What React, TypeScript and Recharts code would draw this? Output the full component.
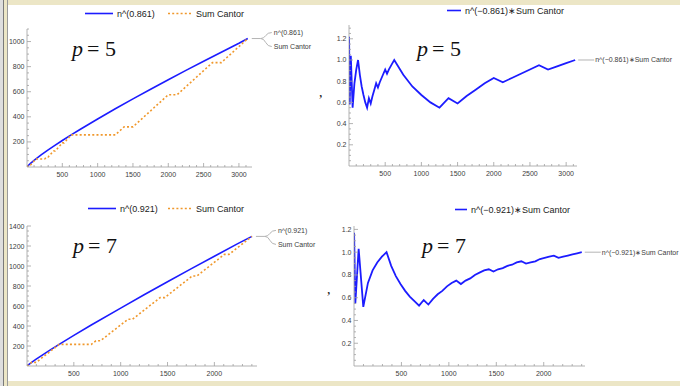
import React from 'react';
import { LineChart, Line, XAxis, YAxis, ReferenceDot } from 'recharts';

// p = 5 : n^(0.861) and the Cantor count
const p5Power: [number, number][] = [
  [0, 0], [10, 7], [25, 16], [50, 29], [100, 53], [200, 96], [300, 136], [400, 174], [500, 211],
  [625, 256], [750, 299], [1000, 383], [1250, 464], [1500, 543], [1750, 620], [2000, 696],
  [2250, 770], [2500, 843], [2750, 915], [3000, 986], [3125, 1024],
];
const p5Cantor: [number, number][] = [
  [0, 0], [25, 16], [50, 16], [75, 32], [100, 48], [125, 64], [250, 64], [275, 80], [300, 80],
  [325, 96], [350, 112], [375, 128], [400, 128], [425, 144], [450, 160], [475, 176], [500, 192],
  [525, 192], [550, 208], [575, 224], [600, 240], [625, 256], [1250, 256], [1375, 320], [1500, 320],
  [1625, 384], [1750, 448], [1875, 512], [2000, 576], [2125, 576], [2250, 640], [2375, 704],
  [2500, 768], [2625, 832], [2750, 832], [2875, 896], [3000, 960], [3125, 1024],
];
const p5Ratio: [number, number][] = [
  [1, 1.22], [10, 0.58], [25, 1.04], [50, 0.55], [75, 0.78], [100, 0.91], [125, 1.0], [150, 0.86],
  [175, 0.75], [200, 0.67], [225, 0.6], [250, 0.55], [275, 0.64], [300, 0.59], [325, 0.66],
  [350, 0.72], [375, 0.78], [400, 0.74], [425, 0.79], [450, 0.83], [475, 0.87], [500, 0.91],
  [525, 0.87], [550, 0.91], [575, 0.94], [600, 0.97], [625, 1.0], [750, 0.86], [875, 0.75],
  [1000, 0.67], [1125, 0.6], [1250, 0.55], [1375, 0.64], [1500, 0.59], [1625, 0.66], [1750, 0.72],
  [1875, 0.78], [2000, 0.83], [2125, 0.79], [2250, 0.83], [2375, 0.87], [2500, 0.91], [2625, 0.95],
  [2750, 0.91], [2875, 0.94], [3000, 0.97], [3125, 1.0],
];

// p = 7 : n^(0.921) and the Cantor count
const p7Power: [number, number][] = [
  [0, 0], [10, 8], [25, 19], [49, 36], [98, 68], [147, 99], [196, 129], [245, 159], [343, 216],
  [500, 306], [686, 410], [1000, 579], [1250, 713], [1500, 843], [1750, 971], [2000, 1097],
  [2250, 1224], [2401, 1296],
];
const p7Cantor: [number, number][] = [
  [0, 0], [49, 36], [98, 36], [147, 72], [196, 108], [245, 144], [294, 180], [343, 216], [686, 216],
  [735, 252], [784, 252], [833, 288], [882, 324], [931, 360], [980, 396], [1029, 432], [1078, 468],
  [1127, 468], [1176, 504], [1225, 540], [1274, 576], [1323, 612], [1372, 648], [1421, 684],
  [1470, 684], [1519, 720], [1568, 756], [1617, 792], [1666, 828], [1715, 864], [1764, 900],
  [1813, 900], [1862, 936], [1911, 972], [1960, 1008], [2009, 1044], [2058, 1080], [2107, 1116],
  [2156, 1116], [2205, 1152], [2254, 1188], [2303, 1224], [2352, 1260], [2401, 1296],
];
const p7Ratio: [number, number][] = [
  [1, 1.17], [14, 0.55], [49, 1.03], [98, 0.52], [147, 0.73], [196, 0.84], [245, 0.91], [294, 0.96],
  [343, 1.0], [392, 0.88], [441, 0.79], [490, 0.72], [539, 0.66], [588, 0.61], [637, 0.57],
  [686, 0.53], [735, 0.58], [784, 0.54], [833, 0.59], [882, 0.63], [931, 0.66], [980, 0.7],
  [1029, 0.73], [1078, 0.75], [1127, 0.72], [1176, 0.75], [1225, 0.77], [1274, 0.8], [1323, 0.82],
  [1372, 0.84], [1421, 0.85], [1470, 0.83], [1519, 0.85], [1568, 0.86], [1617, 0.88], [1666, 0.89],
  [1715, 0.91], [1764, 0.92], [1813, 0.9], [1862, 0.91], [1911, 0.92], [1960, 0.94], [2009, 0.95],
  [2058, 0.96], [2107, 0.97], [2156, 0.95], [2205, 0.96], [2254, 0.97], [2303, 0.98], [2352, 0.99],
  [2401, 1.0],
];

// tick labels
const xMajor5 = [500, 1000, 1500, 2000, 2500, 3000];
const xMajor7 = [500, 1000, 1500, 2000];
const yMajorSum5 = [200, 400, 600, 800, 1000];
const yMajorSum7 = [200, 400, 600, 800, 1000, 1200, 1400];
const yMajorRatio = [0.2, 0.4, 0.6, 0.8, 1.0, 1.2];

const BLUE = '#1c1cff';
const ORANGE = '#f0982c';
const AXIS = '#a0a0a0';
const LABEL = '#3c3c3c';
const LEADER = '#b4b4b4';
const SANS = '"Liberation Sans", Arial, sans-serif';
const SERIF = '"Liberation Serif", "Times New Roman", serif';

const toPts = (arr: [number, number][]) => arr.map(([n, v]) => ({ n, v }));

// minor + major tick positions
const tickSteps = (step: number, max: number) => {
  const out: number[] = [];
  for (let i = 1; i * step <= max + 1e-9; i++) out.push(Math.round(i * step * 1000) / 1000);
  return out;
};

const XTick = (props: any) => {
  const { x, y, payload, major } = props;
  const isMajor = major.some((m: number) => Math.abs(m - payload.value) < 1e-6);
  return (
    <g>
      <line x1={x} x2={x} y1={y} y2={y - (isMajor ? 4 : 2)} stroke={AXIS} strokeWidth={0.8} />
      {isMajor && (
        <text x={x} y={y + 10} textAnchor="middle" fontSize={7} fontFamily={SANS} fill={LABEL}>
          {payload.value}
        </text>
      )}
    </g>
  );
};

const YTick = (props: any) => {
  const { x, y, payload, major, decimals } = props;
  const isMajor = major.some((m: number) => Math.abs(m - payload.value) < 1e-6);
  return (
    <g>
      <line x1={x} x2={x + (isMajor ? 4 : 2)} y1={y} y2={y} stroke={AXIS} strokeWidth={0.8} />
      {isMajor && (
        <text x={x - 2.5} y={y + 2.5} textAnchor="end" fontSize={7} fontFamily={SANS} fill={LABEL}>
          {decimals ? Number(payload.value).toFixed(decimals) : payload.value}
        </text>
      )}
    </g>
  );
};

const PairCallout = (props: any) => {
  const { cx, cy, top, bottom } = props;
  return (
    <g>
      <path
        d={`M${cx + 4},${cy} H${cx + 13} Q${cx + 16},${cy} ${cx + 18},${cy - 3} Q${cx + 20},${cy - 6} ${cx + 24},${cy - 6} M${cx + 13},${cy} Q${cx + 16},${cy} ${cx + 18},${cy + 4} Q${cx + 20},${cy + 8} ${cx + 24},${cy + 8}`}
        fill="none"
        stroke={LEADER}
        strokeWidth={1}
      />
      <text x={cx + 26} y={cy - 3.5} fontSize={7} fontFamily={SANS} fill={LABEL}>{top}</text>
      <text x={cx + 26} y={cy + 10.5} fontSize={7} fontFamily={SANS} fill={LABEL}>{bottom}</text>
    </g>
  );
};

const SingleCallout = (props: any) => {
  const { cx, cy, text } = props;
  return (
    <g>
      <line x1={cx + 3} x2={cx + 19} y1={cy} y2={cy} stroke={LEADER} strokeWidth={1} />
      <text x={cx + 20} y={cy + 2.5} fontSize={7} fontFamily={SANS} fill={LABEL}>{text}</text>
    </g>
  );
};

type Series = { data: [number, number][]; color: string; dashed?: boolean; width: number };

type PanelProps = {
  left: number; top: number; width: number; height: number;
  yAxisWidth: number; xAxisHeight: number; marginTop: number; marginRight: number;
  xMax: number; yMax: number; xMajor: number[]; yMajor: number[]; yMinorStep: number; decimals: number;
  series: Series[]; callout: React.ReactElement; calloutAt: [number, number];
};

const Panel = (p: PanelProps) => (
  <div style={{ position: 'absolute', left: p.left, top: p.top }}>
    <LineChart
      width={p.width}
      height={p.height}
      margin={{ top: p.marginTop, right: p.marginRight, bottom: 0, left: 0 }}
      style={{ overflow: 'visible' }}
    >
      <XAxis
        dataKey="n"
        type="number"
        domain={[0, p.xMax]}
        ticks={tickSteps(100, p.xMax)}
        interval={0}
        height={p.xAxisHeight}
        tickSize={0}
        tickMargin={0}
        tickLine={false}
        axisLine={{ stroke: AXIS, strokeWidth: 0.8 }}
        tick={<XTick major={p.xMajor} />}
        allowDataOverflow
      />
      <YAxis
        type="number"
        domain={[0, p.yMax]}
        ticks={tickSteps(p.yMinorStep, p.yMax)}
        interval={0}
        width={p.yAxisWidth}
        tickSize={0}
        tickMargin={0}
        tickLine={false}
        axisLine={{ stroke: AXIS, strokeWidth: 0.8 }}
        tick={<YTick major={p.yMajor} decimals={p.decimals} />}
        allowDataOverflow
      />
      {p.series.map((s, i) => (
        <Line
          key={i}
          data={toPts(s.data)}
          dataKey="v"
          type="linear"
          stroke={s.color}
          strokeWidth={s.width}
          strokeDasharray={s.dashed ? '2 2.2' : undefined}
          dot={false}
          activeDot={false}
          isAnimationActive={false}
        />
      ))}
      <ReferenceDot
        x={p.calloutAt[0]}
        y={p.calloutAt[1]}
        r={0}
        ifOverflow="visible"
        shape={(sp: any) => React.cloneElement(p.callout, { cx: sp.cx, cy: sp.cy })}
      />
    </LineChart>
  </div>
);

const LegendLine = ({ x1, x2, y, color, dashed }: any) => (
  <line x1={x1} x2={x2} y1={y} y2={y} stroke={color} strokeWidth={1.6} strokeDasharray={dashed ? '2 2.2' : undefined} />
);

const PLabel = ({ x, y, digit }: { x: number; y: number; digit: string }) => (
  <text y={y} fontSize={22} fontFamily={SERIF} fill="#111">
    <tspan x={x} fontStyle="italic">p</tspan>
    <tspan x={x + 15}>=</tspan>
    <tspan x={x + 33}>{digit}</tspan>
  </text>
);

export default function App() {
  const last = (a: [number, number][]) => a[a.length - 1];
  return (
    <div style={{ position: 'absolute', left: 0, top: 0, width: 680, height: 386, background: '#ffffff', overflow: 'hidden' }}>
      {/* notebook frame */}
      <div style={{ position: 'absolute', left: 0, top: 0, width: 680, height: 5, background: '#ece6c6' }} />
      <div style={{ position: 'absolute', left: 0, top: 381, width: 680, height: 5, background: '#ece6c6' }} />
      <div style={{ position: 'absolute', left: 0, top: 0, width: 8, height: 386, background: '#ece6c6' }} />
      <div style={{ position: 'absolute', left: 0, top: 0, width: 3, height: 386, background: '#dedede' }} />
      <div style={{ position: 'absolute', left: 3, top: 0, width: 1, height: 386, background: '#7a7a7a' }} />
      <div style={{ position: 'absolute', left: 7, top: 0, width: 1, height: 386, background: '#9a9a9a' }} />

      <Panel
        left={0} top={0} width={330} height={190}
        yAxisWidth={27} xAxisHeight={23} marginTop={29} marginRight={78}
        xMax={3185} yMax={1100} xMajor={xMajor5} yMajor={yMajorSum5} yMinorStep={50} decimals={0}
        series={[
          { data: p5Power, color: BLUE, width: 1.6 },
          { data: p5Cantor, color: ORANGE, width: 1.6, dashed: true },
        ]}
        calloutAt={last(p5Power)}
        callout={<PairCallout top="n^(0.861)" bottom="Sum Cantor" />}
      />
      <Panel
        left={330} top={0} width={350} height={190}
        yAxisWidth={19} xAxisHeight={24} marginTop={25} marginRight={103}
        xMax={3150} yMax={1.33} xMajor={xMajor5} yMajor={yMajorRatio} yMinorStep={0.05} decimals={1}
        series={[{ data: p5Ratio, color: BLUE, width: 1.8 }]}
        calloutAt={last(p5Ratio)}
        callout={<SingleCallout text="n^(−0.861)∗Sum Cantor" />}
      />
      <Panel
        left={0} top={195} width={330} height={191}
        yAxisWidth={27} xAxisHeight={20} marginTop={31} marginRight={73}
        xMax={2455} yMax={1400} xMajor={xMajor7} yMajor={yMajorSum7} yMinorStep={50} decimals={0}
        series={[
          { data: p7Power, color: BLUE, width: 1.6 },
          { data: p7Cantor, color: ORANGE, width: 1.6, dashed: true },
        ]}
        calloutAt={last(p7Power)}
        callout={<PairCallout top="n^(0.921)" bottom="Sum Cantor" />}
      />
      <Panel
        left={330} top={195} width={350} height={191}
        yAxisWidth={24} xAxisHeight={20} marginTop={31} marginRight={95}
        xMax={2435} yMax={1.23} xMajor={xMajor7} yMajor={yMajorRatio} yMinorStep={0.05} decimals={1}
        series={[{ data: p7Ratio, color: BLUE, width: 1.8 }]}
        calloutAt={last(p7Ratio)}
        callout={<SingleCallout text="n^(−0.921)∗Sum Cantor" />}
      />

      {/* legends, panel labels and separators */}
      <svg width={680} height={386} style={{ position: 'absolute', left: 0, top: 0, pointerEvents: 'none' }}>
        <g fontFamily={SANS} fontSize={9} fill="#222">
          <LegendLine x1={85} x2={113} y={13.5} color={BLUE} />
          <text x={117} y={16.5}>n^(0.861)</text>
          <LegendLine x1={168} x2={192} y={13.5} color={ORANGE} dashed />
          <text x={196} y={16.5}>Sum Cantor</text>

          <LegendLine x1={447} x2={461} y={10.5} color={BLUE} />
          <text x={465} y={13.5}>n^(−0.861)∗Sum Cantor</text>

          <LegendLine x1={88} x2={116} y={208.5} color={BLUE} />
          <text x={120} y={211.5}>n^(0.921)</text>
          <LegendLine x1={168} x2={192} y={208.5} color={ORANGE} dashed />
          <text x={196} y={211.5}>Sum Cantor</text>

          <LegendLine x1={455} x2={467} y={209.5} color={BLUE} />
          <text x={471} y={212.5}>n^(−0.921)∗Sum Cantor</text>
        </g>
        <PLabel x={72} y={56} digit="5" />
        <PLabel x={417} y={56} digit="5" />
        <PLabel x={73} y={253} digit="7" />
        <PLabel x={422} y={253} digit="7" />
        <text x={319} y={97} fontSize={14} fontFamily={SERIF} fill="#111">,</text>
        <text x={327} y={294} fontSize={14} fontFamily={SERIF} fill="#111">,</text>
      </svg>
    </div>
  );
}
